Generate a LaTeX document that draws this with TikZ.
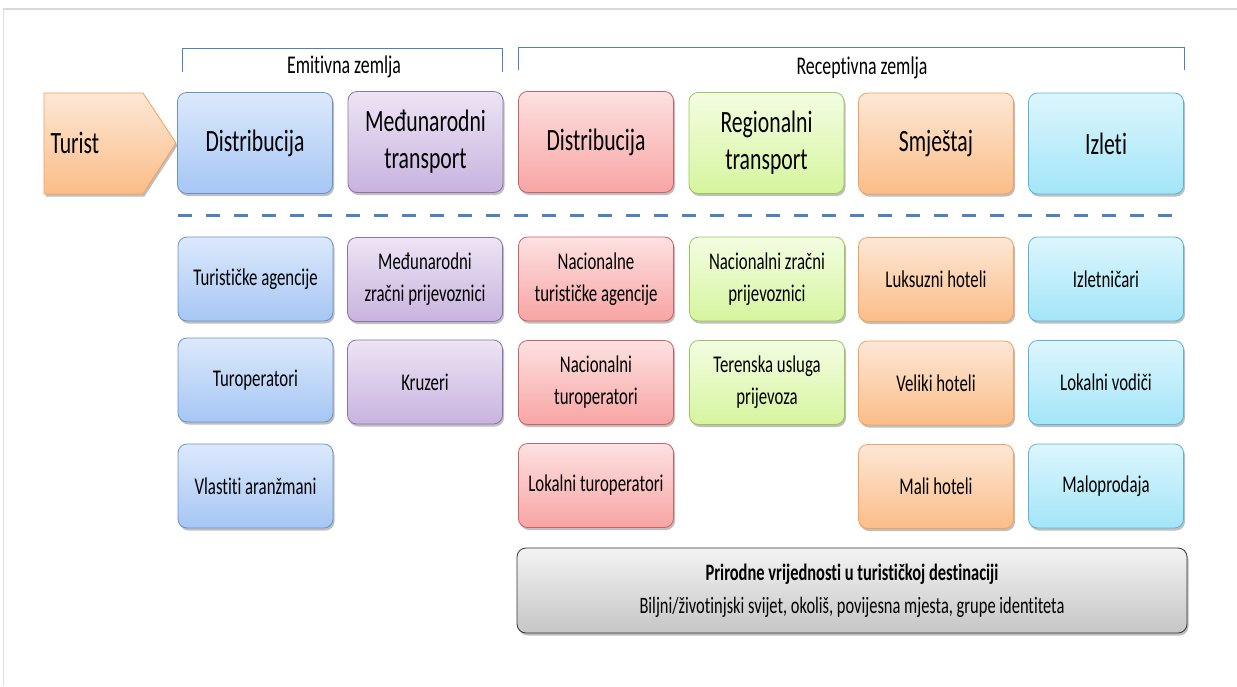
\documentclass[tikz,border=0pt]{standalone}
\usepackage{fontspec}
\setmainfont{Carlito}[FakeStretch=0.7, Ligatures=NoCommon]
\usetikzlibrary{shadows}
\definecolor{bluetop}{HTML}{DCE9FC}\definecolor{bluebot}{HTML}{A6C6F4}\definecolor{blueline}{HTML}{6A92C8}
\definecolor{purtop}{HTML}{EDE4F4}\definecolor{purbot}{HTML}{C8B3DF}\definecolor{purline}{HTML}{8C72AA}
\definecolor{redtop}{HTML}{FDE1E1}\definecolor{redbot}{HTML}{F8A4A4}\definecolor{redline}{HTML}{C46464}
\definecolor{grntop}{HTML}{F3FDE2}\definecolor{grnbot}{HTML}{D6F59E}\definecolor{grnline}{HTML}{9CC45C}
\definecolor{orgtop}{HTML}{FDE7D6}\definecolor{orgbot}{HTML}{FBBD88}\definecolor{orgline}{HTML}{F2A05E}
\definecolor{cyntop}{HTML}{DDF6FD}\definecolor{cynbot}{HTML}{A3E5F8}\definecolor{cynline}{HTML}{58B5D4}
\definecolor{grytop}{HTML}{F3F3F3}\definecolor{grybot}{HTML}{C6C6C6}
\definecolor{dashblue}{HTML}{4F81BD}
\begin{document}
\begin{tikzpicture}[x=1pt,y=-1pt,
  box/.style={rounded corners=9pt, line width=0.8pt, align=center, minimum width=155pt,
    drop shadow={shadow xshift=1.5pt, shadow yshift=-2.5pt, opacity=0.25, fill=black}},
  head/.style={box, minimum height=101pt, font=\fontsize{31}{37}\selectfont},
  item/.style={box, minimum height=84pt, font=\fontsize{24}{32}\selectfont},
  bluebox/.style={draw=blueline, top color=bluetop, bottom color=bluebot},
  purbox/.style={draw=purline, top color=purtop, bottom color=purbot},
  redbox/.style={draw=redline, top color=redtop, bottom color=redbot},
  grnbox/.style={draw=grnline, top color=grntop, bottom color=grnbot},
  orgbox/.style={draw=orgline, top color=orgtop, bottom color=orgbot},
  cynbox/.style={draw=cynline, top color=cyntop, bottom color=cynbot},
  bracket/.style={draw=dashblue, line width=1pt},
  label/.style={font=\fontsize{25.5}{30}\selectfont}
]
\useasboundingbox (0,0) rectangle (1237,686);
% frame lines
\draw[draw=black!15, line width=2pt] (3,9) -- (1237,9);
\draw[draw=black!12, line width=0.8pt] (3.5,9) -- (3.5,686);
% brackets
\coordinate (e1) at (182,72); \coordinate (e2) at (182,48); \coordinate (e3) at (502,48); \coordinate (e4) at (502,72);
\draw[bracket] (e1) -- (e2) -- (e3) -- (e4);
\node[label] (emit) at (344,67) {Emitivna zemlja};
\coordinate (r1) at (518,70); \coordinate (r2) at (518,47); \coordinate (r3) at (1184,47); \coordinate (r4) at (1184,70);
\draw[bracket] (r1) -- (r2) -- (r3) -- (r4);
\node[label] (recep) at (862,68) {Receptivna zemlja};
% Turist arrow
\coordinate (t1) at (44,93); \coordinate (t2) at (143,93); \coordinate (t3) at (176,143);
\coordinate (t4) at (143,194); \coordinate (t5) at (44,194);
\draw[draw=orgline, line width=0.8pt, top color=orgtop, bottom color=orgbot,
  drop shadow={shadow xshift=1.5pt, shadow yshift=-2.5pt, opacity=0.25, fill=black}]
  (t1) -- (t2) -- (t3) -- (t4) -- (t5) -- cycle;
\node[anchor=west, font=\fontsize{31}{37}\selectfont] (turist) at (47,143) {Turist};
% header row
\node[head, bluebox] (h1) at (255,143) {Distribucija};
\node[head, purbox] (h2) at (425.5,142) {Međunarodni\\transport};
\node[head, redbox] (h3) at (596,142) {Distribucija};
\node[head, grnbox] (h4) at (766.5,143) {Regionalni\\transport};
\node[head, orgbox] (h5) at (936,143.5) {Smještaj};
\node[head, cynbox] (h6) at (1106,143.5) {Izleti};
% dashed separator
\coordinate (d1) at (178,215); \coordinate (d2) at (1184,215);
\draw[draw=dashblue, line width=3pt, dash pattern=on 14pt off 14pt] (d1) -- (d2);
% row 2
\node[item, bluebox] (a1) at (255.5,279) {Turističke agencije};
\node[item, purbox] (a2) at (425,279.5) {Međunarodni\\zračni prijevoznici};
\node[item, redbox] (a3) at (596,279) {Nacionalne\\turističke agencije};
\node[item, grnbox] (a4) at (767,279) {Nacionalni zračni\\prijevoznici};
\node[item, orgbox] (a5) at (936,279.5) {Luksuzni hoteli};
\node[item, cynbox] (a6) at (1106,279) {Izletničari};
% row 3
\node[item, bluebox] (b1) at (255.5,380) {Turoperatori};
\node[item, purbox] (b2) at (425,382) {Kruzeri};
\node[item, redbox] (b3) at (596,382.5) {Nacionalni\\turoperatori};
\node[item, grnbox] (b4) at (767,382.5) {Terenska usluga\\prijevoza};
\node[item, orgbox] (b5) at (936,383) {Veliki hoteli};
\node[item, cynbox] (b6) at (1106,382.5) {Lokalni vodiči};
% row 4
\node[item, bluebox] (c1) at (255.5,486) {Vlastiti aranžmani};
\node[item, redbox] (c3) at (596,485.5) {Lokalni turoperatori};
\node[item, orgbox] (c5) at (936,486.5) {Mali hoteli};
\node[item, cynbox] (c6) at (1106,486) {Maloprodaja};
% base box
\node[box, draw=black!80, top color=grytop, bottom color=grybot, minimum width=670pt, minimum height=85pt,
  font=\fontsize{23.5}{33}\selectfont] (base) at (852,590.5)
  {\textbf{Prirodne vrijednosti u turističkoj destinaciji}\\Biljni/životinjski svijet, okoliš, povijesna mjesta, grupe identiteta};
\end{tikzpicture}
\end{document}
